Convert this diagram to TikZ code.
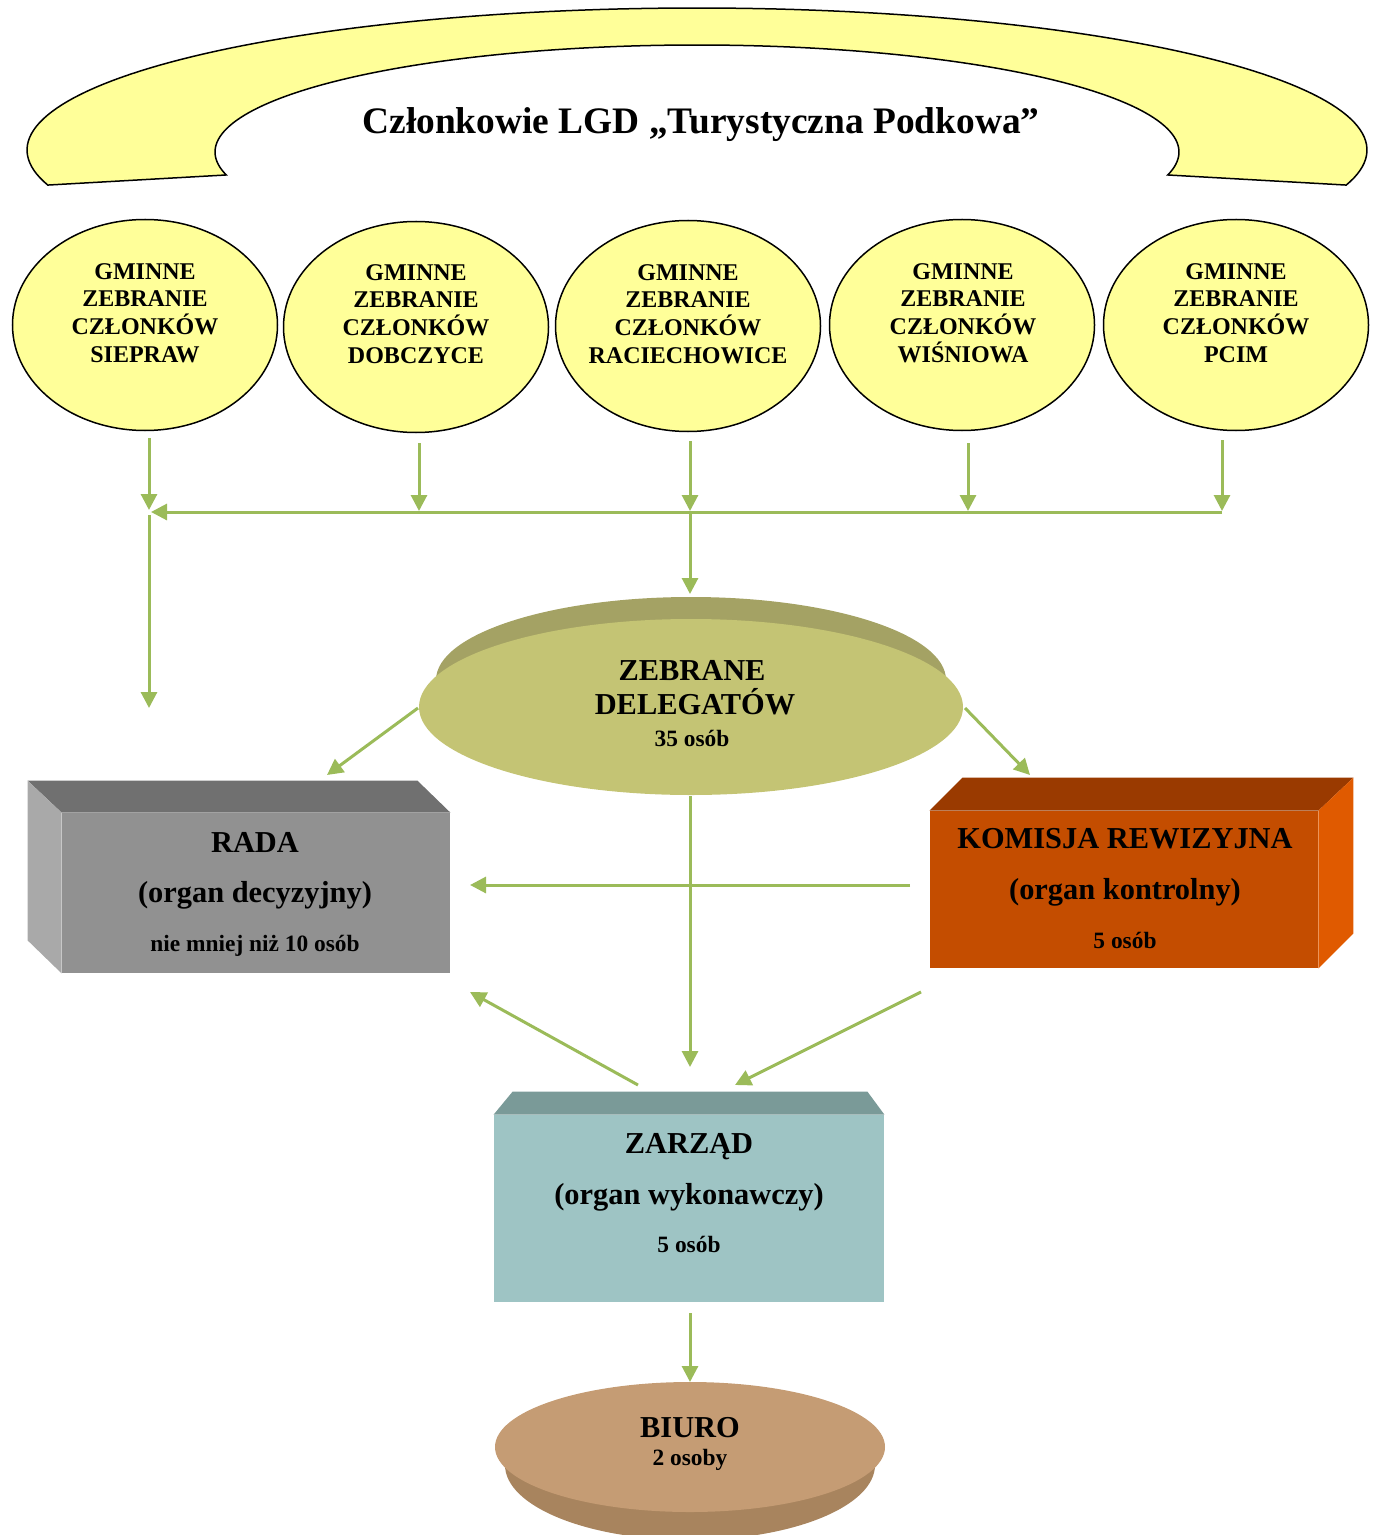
\documentclass[tikz,border=0pt]{standalone}
\usepackage{fontspec}
\setmainfont{Liberation Serif}
\usetikzlibrary{arrows.meta,shapes.geometric,calc}
\definecolor{archY}{HTML}{FFFF99}
\definecolor{arrowG}{HTML}{9BBB59}
\definecolor{zebF}{HTML}{C4C474}
\definecolor{zebB}{HTML}{A4A264}
\definecolor{radaF}{HTML}{919191}
\definecolor{radaT}{HTML}{707070}
\definecolor{radaL}{HTML}{A9A9A9}
\definecolor{komF}{HTML}{C44D00}
\definecolor{komT}{HTML}{9A3A00}
\definecolor{komR}{HTML}{E05A00}
\definecolor{zarF}{HTML}{9EC4C4}
\definecolor{zarT}{HTML}{7A9A98}
\definecolor{biuF}{HTML}{C59C74}
\definecolor{biuB}{HTML}{A8845E}
\begin{document}
\begin{tikzpicture}[x=0.5pt,y=-0.5pt,
  conn/.style={draw=arrowG, line width=1.5pt, -{Triangle[width=8pt,length=8pt]}},
  gmina/.style={ellipse, draw=black, line width=0.75pt, fill=archY, minimum width=132.5pt, minimum height=105.5pt, inner sep=0pt},
  gtext/.style={align=center, inner sep=0pt, font=\fontsize{12}{13.9}\selectfont\bfseries},
  bigtxt/.style={font=\fontsize{15.2}{18}\selectfont\bfseries, anchor=base, inner sep=0pt},
  smalltxt/.style={font=\fontsize{11.7}{13}\selectfont\bfseries, anchor=base, inner sep=0pt},
  face/.style={rectangle, inner sep=0pt, draw=none}
]
\useasboundingbox (0,0) rectangle (1374,1535);

% ---- arch ----
\path[draw=black, line width=0.75pt, fill=archY]
  plot[domain=194.3:-14.3, samples=140, variable=\t] ({697+670*cos(\t)},{150-142*sin(\t)})
  -- plot[domain=-12.4:192.4, samples=140, variable=\t] ({697+482*cos(\t)},{152-107*sin(\t)})
  -- cycle;
\node[font=\fontsize{18.7}{22}\selectfont\bfseries, anchor=base, inner sep=0pt] (title) at (701,134) {Członkowie LGD „Turystyczna Podkowa”};

% ---- gminy ----
\node[gmina] (g1) at (145,325) {};
\node[gtext] (t1) at (145,313) {GMINNE\\ZEBRANIE\\CZŁONKÓW\\SIEPRAW};
\node[gmina] (g2) at (416,327) {};
\node[gtext] (t2) at (416,314) {GMINNE\\ZEBRANIE\\CZŁONKÓW\\DOBCZYCE};
\node[gmina] (g3) at (688,326) {};
\node[gtext] (t3) at (688,314) {GMINNE\\ZEBRANIE\\CZŁONKÓW\\RACIECHOWICE};
\node[gmina] (g4) at (962,325) {};
\node[gtext] (t4) at (963,313) {GMINNE\\ZEBRANIE\\CZŁONKÓW\\WIŚNIOWA};
\node[gmina] (g5) at (1236,325) {};
\node[gtext] (t5) at (1236,313) {GMINNE\\ZEBRANIE\\CZŁONKÓW\\PCIM};

% ---- ZEBRANIE DELEGATOW ----
\fill[zebB] (691,680) ellipse [x radius=255, y radius=83];
\node[ellipse, fill=zebF, minimum width=272pt, minimum height=88pt, inner sep=0pt] (zeb) at (691,707) {};
\node[bigtxt] (zebt1) at (692,680) {ZEBRANE};
\node[bigtxt] (zebt2) at (695,714) {DELEGATÓW};
\node[smalltxt] (zebt3) at (692,746) {35 osób};

% ---- RADA ----
\node[face, fill=radaF, minimum width=194pt, minimum height=80pt] (rada) at (256,893) {};
\fill[radaT] (rada.north west) -- ++(-34,-32) -- ($(rada.north east)+(-33,-32)$) -- (rada.north east) -- cycle;
\fill[radaL] (rada.north west) -- ++(-34,-32) -- ($(rada.south west)+(-34,-33)$) -- (rada.south west) -- cycle;
\node[bigtxt] (radat1) at (255,852) {RADA};
\node[bigtxt] (radat2) at (255,902) {(organ decyzyjny)};
\node[smalltxt] (radat3) at (255,951) {nie mniej niż 10 osób};

% ---- KOMISJA ----
\node[face, fill=komF, minimum width=194pt, minimum height=78.5pt] (kom) at (1124,889.5) {};
\fill[komT] (kom.north west) -- ++(33,-33) -- ($(kom.north east)+(35,-33)$) -- (kom.north east) -- cycle;
\fill[komR] (kom.north east) -- ++(35,-33) -- ($(kom.south east)+(35,-35)$) -- (kom.south east) -- cycle;
\node[bigtxt] (komt1) at (1125,848) {KOMISJA REWIZYJNA};
\node[bigtxt] (komt2) at (1125,899) {(organ kontrolny)};
\node[smalltxt] (komt3) at (1125,948) {5 osób};

% ---- ZARZAD ----
\node[face, fill=zarF, minimum width=195pt, minimum height=93.5pt] (zar) at (689,1208.5) {};
\fill[zarT] (zar.north west) -- ++(19,-23) -- ($(zar.north east)+(-17,-23)$) -- (zar.north east) -- cycle;
\node[bigtxt] (zart1) at (689,1153) {ZARZĄD};
\node[bigtxt] (zart2) at (689,1204) {(organ wykonawczy)};
\node[smalltxt] (zart3) at (689,1252) {5 osób};

% ---- BIURO ----
\begin{scope}
\clip (0,0) rectangle (1374,1535);
\fill[biuB] (690,1465) ellipse [x radius=185, y radius=75];
\end{scope}
\node[ellipse, fill=biuF, minimum width=195pt, minimum height=65pt, inner sep=0pt] (biuro) at (690,1447) {};
\node[bigtxt] (biut1) at (690,1437) {BIURO};
\node[smalltxt] (biut2) at (690,1465) {2 osoby};

% ---- connector coordinates ----
\coordinate (s1) at (149,438); \coordinate (e1) at (149,510);
\coordinate (s2) at (419,443); \coordinate (e2) at (419,511);
\coordinate (s3) at (690,441); \coordinate (e3) at (690,511);
\coordinate (s4) at (968,443); \coordinate (e4) at (968,511);
\coordinate (s5) at (1222,440); \coordinate (e5) at (1222,511);
\coordinate (busR) at (1222,512); \coordinate (busL) at (151,512);
\coordinate (leftS) at (149,515); \coordinate (leftE) at (149,708);
\coordinate (midS) at (690,512); \coordinate (midE) at (690,594);
\coordinate (zrS) at (418,708); \coordinate (zrE) at (327,775);
\coordinate (zkS) at (965,708); \coordinate (zkE) at (1030,775);
\coordinate (krS) at (910,885); \coordinate (krE) at (470,885);
\coordinate (zzS) at (690,796); \coordinate (zzE) at (690,1067);
\coordinate (arS) at (638,1085); \coordinate (arE) at (470,992);
\coordinate (kaS) at (921,992); \coordinate (kaE) at (735,1085);
\coordinate (abS) at (690,1313); \coordinate (abE) at (690,1382);

% ---- connectors ----
\draw[conn] (s1) -- (e1);
\draw[conn] (s2) -- (e2);
\draw[conn] (s3) -- (e3);
\draw[conn] (s4) -- (e4);
\draw[conn] (s5) -- (e5);
\draw[conn] (busR) -- (busL);
\draw[conn] (leftS) -- (leftE);
\draw[conn] (midS) -- (midE);
\draw[conn] (zrS) -- (zrE);
\draw[conn] (zkS) -- (zkE);
\draw[conn] (krS) -- (krE);
\draw[conn] (zzS) -- (zzE);
\draw[conn] (arS) -- (arE);
\draw[conn] (kaS) -- (kaE);
\draw[conn] (abS) -- (abE);
\end{tikzpicture}
\end{document}
